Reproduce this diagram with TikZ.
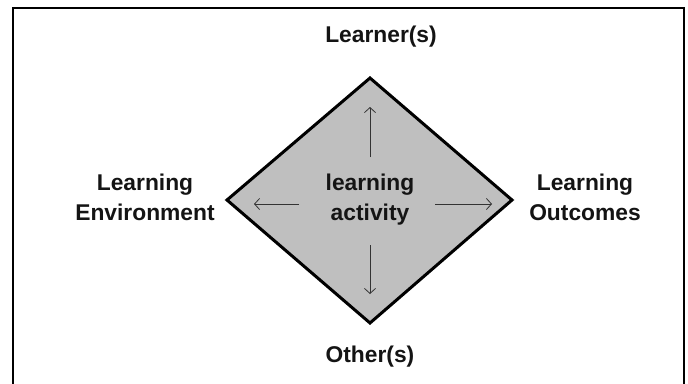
\documentclass[tikz,border=0pt]{standalone}
\usepackage{fontspec}
\setmainfont{Liberation Sans}
\usetikzlibrary{arrows.meta}
\begin{document}
\begin{tikzpicture}[x=1pt,y=-1pt,
  lbl/.style={font=\fontsize{22.8}{30}\selectfont\bfseries, text=black!92, align=center, inner sep=0pt},
  arr/.style={draw=black!80, line width=0.9pt, -{Straight Barb[length=5pt,width=11pt,line width=0.8pt]}},
  dia/.style={draw=black, line width=3pt, fill=black!25, line join=miter}]
\useasboundingbox (0,0) rectangle (688,383);
\clip (0,0) rectangle (688,383);
\draw[line width=2pt] (13,400) -- (13,8) -- (684,8) -- (684,400);
\coordinate (T) at (370,78);
\coordinate (B) at (370,323);
\coordinate (L) at (227,200);
\coordinate (R) at (512,200);
\draw[dia] (T) -- (R) -- (B) -- (L) -- cycle;
\node[lbl] (act) at (370,200) {learning\\[0pt]activity};
\coordinate (u0) at (370,157); \coordinate (u1) at (370,107);
\coordinate (d0) at (370,245); \coordinate (d1) at (370,294);
\coordinate (l0) at (299,204); \coordinate (l1) at (254,204);
\coordinate (r0) at (435,204); \coordinate (r1) at (492,204);
\draw[arr] (u0) -- (u1);
\draw[arr] (d0) -- (d1);
\draw[arr] (l0) -- (l1);
\draw[arr] (r0) -- (r1);
\node[lbl] (learner) at (381,37) {Learner(s)};
\node[lbl] (other) at (370,357) {Other(s)};
\node[lbl] (env) at (145,197) {Learning\\[0pt]Environment};
\node[lbl] (out) at (585,197) {Learning\\[0pt]Outcomes};
\end{tikzpicture}
\end{document}
